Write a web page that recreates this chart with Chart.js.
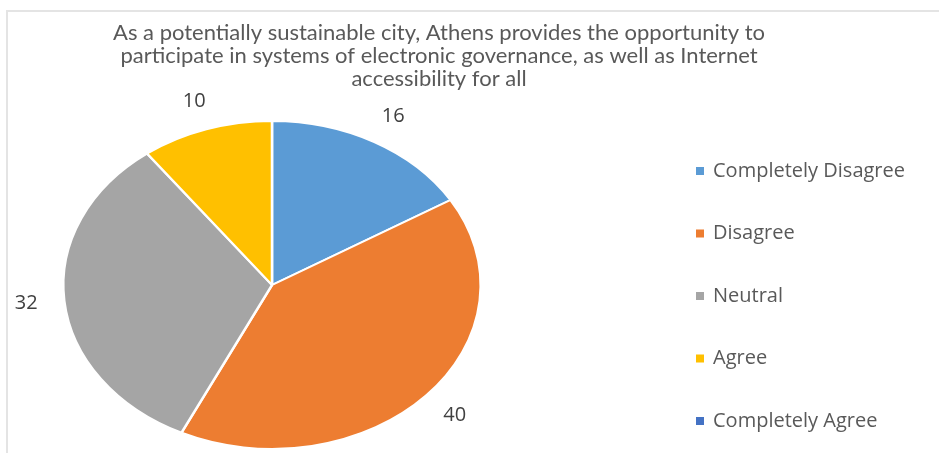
<!DOCTYPE html>
<html>
<head>
<meta charset="utf-8">
<script src="https://cdn.jsdelivr.net/npm/chart.js@4/dist/chart.umd.min.js"></script>
<style>
  html, body { margin: 0; padding: 0; background: #fff; }
  #wrap { width: 939px; height: 453px; position: relative; }
</style>
</head>
<body>
<div id="wrap"><canvas id="myChart"></canvas></div>
<script>
const titleLines = [
  "As a potentially sustainable city, Athens provides the opportunity to",
  "participate in systems of electronic governance, as well as Internet",
  "accessibility for all"
];
const categories = ["Completely Disagree", "Disagree", "Neutral", "Agree", "Completely Agree"];
const responses = [16, 40, 32, 10, 0];
const sliceColors = ["#5B9BD5", "#ED7D31", "#A5A5A5", "#FFC000", "#4472C4"];

// pie is drawn a bit wider than tall
const STRETCH_X = 210 / 165;

const stretchPie = {
  id: "stretchPie",
  beforeDatasetsDraw(chart) {
    const arc = chart.getDatasetMeta(0).data[0];
    const ctx = chart.ctx;
    ctx.save();
    ctx.translate(arc.x, arc.y);
    ctx.scale(STRETCH_X, 1);
    ctx.translate(-arc.x, -arc.y);
  },
  afterDatasetsDraw(chart) {
    chart.ctx.restore();
  }
};

const decorations = {
  id: "decorations",
  beforeDraw(chart) {
    const ctx = chart.ctx;
    ctx.save();
    ctx.strokeStyle = "#e4e4e4";
    ctx.lineWidth = 2;
    ctx.beginPath();
    ctx.moveTo(7, chart.height);
    ctx.lineTo(7, 11);
    ctx.lineTo(chart.width, 11);
    ctx.stroke();
    ctx.restore();
  },
  afterDraw(chart) {
    const ctx = chart.ctx;
    ctx.save();

    // title
    ctx.fillStyle = "#595959";
    ctx.font = "22px Lato";
    ctx.textAlign = "center";
    ctx.textBaseline = "middle";
    titleLines.forEach((line, i) => ctx.fillText(line, 439, 33 + i * 23));

    // value labels outside each slice
    ctx.fillStyle = "#404040";
    ctx.font = "20px 'Open Sans'";
    const meta = chart.getDatasetMeta(0);
    meta.data.forEach((arc, i) => {
      const v = chart.data.datasets[0].data[i];
      if (!v) return;
      const mid = (arc.startAngle + arc.endAngle) / 2;
      const r = arc.outerRadius + 30;
      const x = arc.x + Math.cos(mid) * r * STRETCH_X;
      const y = arc.y + Math.sin(mid) * r;
      ctx.fillText(String(v), x, y);
    });

    // legend
    ctx.textAlign = "left";
    ctx.font = "20px 'Open Sans'";
    chart.data.labels.forEach((label, i) => {
      const y = 171 + i * 62.5;
      ctx.fillStyle = sliceColors[i];
      ctx.fillRect(696, y - 4, 8, 8);
      ctx.fillStyle = "#595959";
      ctx.fillText(label, 713, y);
    });
    ctx.restore();
  }
};

new Chart(document.getElementById("myChart"), {
  type: "pie",
  data: {
    labels: categories,
    datasets: [{
      data: responses,
      backgroundColor: sliceColors,
      borderColor: "#ffffff",
      borderWidth: 2,
      hoverOffset: 0
    }]
  },
  options: {
    responsive: true,
    maintainAspectRatio: false,
    animation: false,
    events: [],
    layout: {
      padding: { left: 107, right: 502, top: 120, bottom: 3 }
    },
    plugins: {
      legend: { display: false },
      tooltip: { enabled: false }
    }
  },
  plugins: [stretchPie, decorations]
});
</script>
</body>
</html>
